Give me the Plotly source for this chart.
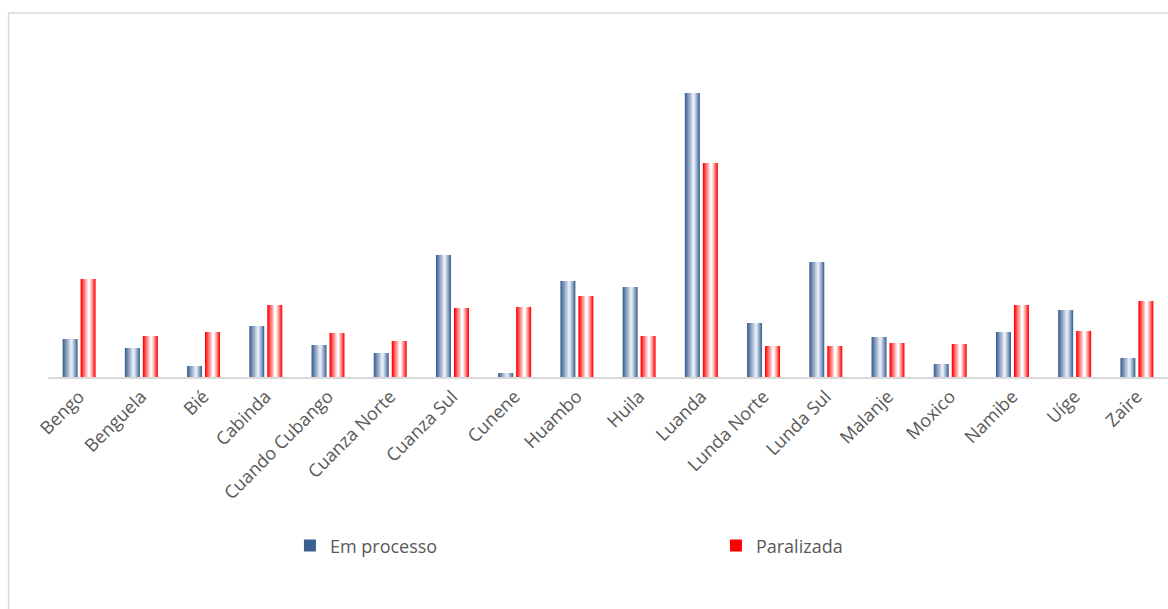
import plotly.graph_objects as go

# ---- data (arbitrary units) ----
provincias = ["Bengo", "Benguela", "Bié", "Cabinda", "Cuando Cubango", "Cuanza Norte",
              "Cuanza Sul", "Cunene", "Huambo", "Huila", "Luanda", "Lunda Norte",
              "Lunda Sul", "Malanje", "Moxico", "Namibe", "Uíge", "Zaire"]
em_processo = [38, 29, 11, 51, 32, 24, 122, 4, 96, 90, 284, 54, 115, 40, 13, 45, 67, 19]
paralizada = [98, 41, 45, 72, 44, 36, 69, 70, 81, 41, 214, 31, 31, 34, 33, 72, 46, 76]

# ---- styling ----
BAR_W = 0.241
N_LAYERS = 9


def hex2rgb(h):
    h = h.lstrip("#")
    return tuple(int(h[i:i + 2], 16) for i in (0, 2, 4))


def mix(c1, c2, t):
    a, b = hex2rgb(c1), hex2rgb(c2)
    return "rgb(%d,%d,%d)" % tuple(round(a[i] + (b[i] - a[i]) * t) for i in range(3))


def cylinder(fig, name, values, left_offset, edge, center, hl):
    """Draw a series as overlaid layers to imitate a cylinder gradient."""
    for k in range(N_LAYERS):
        s = 1 - k / N_LAYERS
        t = (k / (N_LAYERS - 1)) ** 0.9
        hx = left_offset + BAR_W * hl
        off = hx - BAR_W * hl * s
        w = BAR_W * s
        fig.add_trace(go.Bar(
            x=provincias, y=values, name=name,
            offset=off, width=w,
            marker=dict(color=mix(edge, center, t), line=dict(width=0)),
            legendgroup=name, showlegend=(k == 0),
            hoverinfo="skip" if k else None,
        ))


fig = go.Figure()
cylinder(fig, "Em processo", em_processo, -0.265, "#3c5f92", "#e3ebf5", 0.6)
cylinder(fig, "Paralizada", paralizada, 0.024, "#ff0000", "#ffffff", 0.57)

fig.update_layout(
    width=1168, height=609,
    barmode="overlay",
    plot_bgcolor="white", paper_bgcolor="white",
    margin=dict(l=48, r=0, t=20, b=232),
    font=dict(family="Open Sans, sans-serif", color="#595959", size=18),
    xaxis=dict(
        tickangle=-45, showgrid=False, ticks="", showline=True,
        linecolor="#d9d9d9", linewidth=2, tickfont=dict(size=18, color="#595959"),
        range=[-0.5, 17.5],
    ),
    yaxis=dict(visible=False, range=[0, 357]),
    legend=dict(
        orientation="h", x=0.216, xanchor="left", y=-0.473, yanchor="middle",
        entrywidth=381, entrywidthmode="pixels",
        font=dict(size=18, color="#595959"),
        itemsizing="constant", tracegroupgap=0,
    ),
    shapes=[dict(
        type="rect", xref="paper", yref="paper",
        x0=-0.0352, x1=1.05, y0=-0.75, y1=1.0196,
        line=dict(color="#d9d9d9", width=1.5), fillcolor="rgba(0,0,0,0)", layer="below",
    )],
)

fig.write_html("out.html")
